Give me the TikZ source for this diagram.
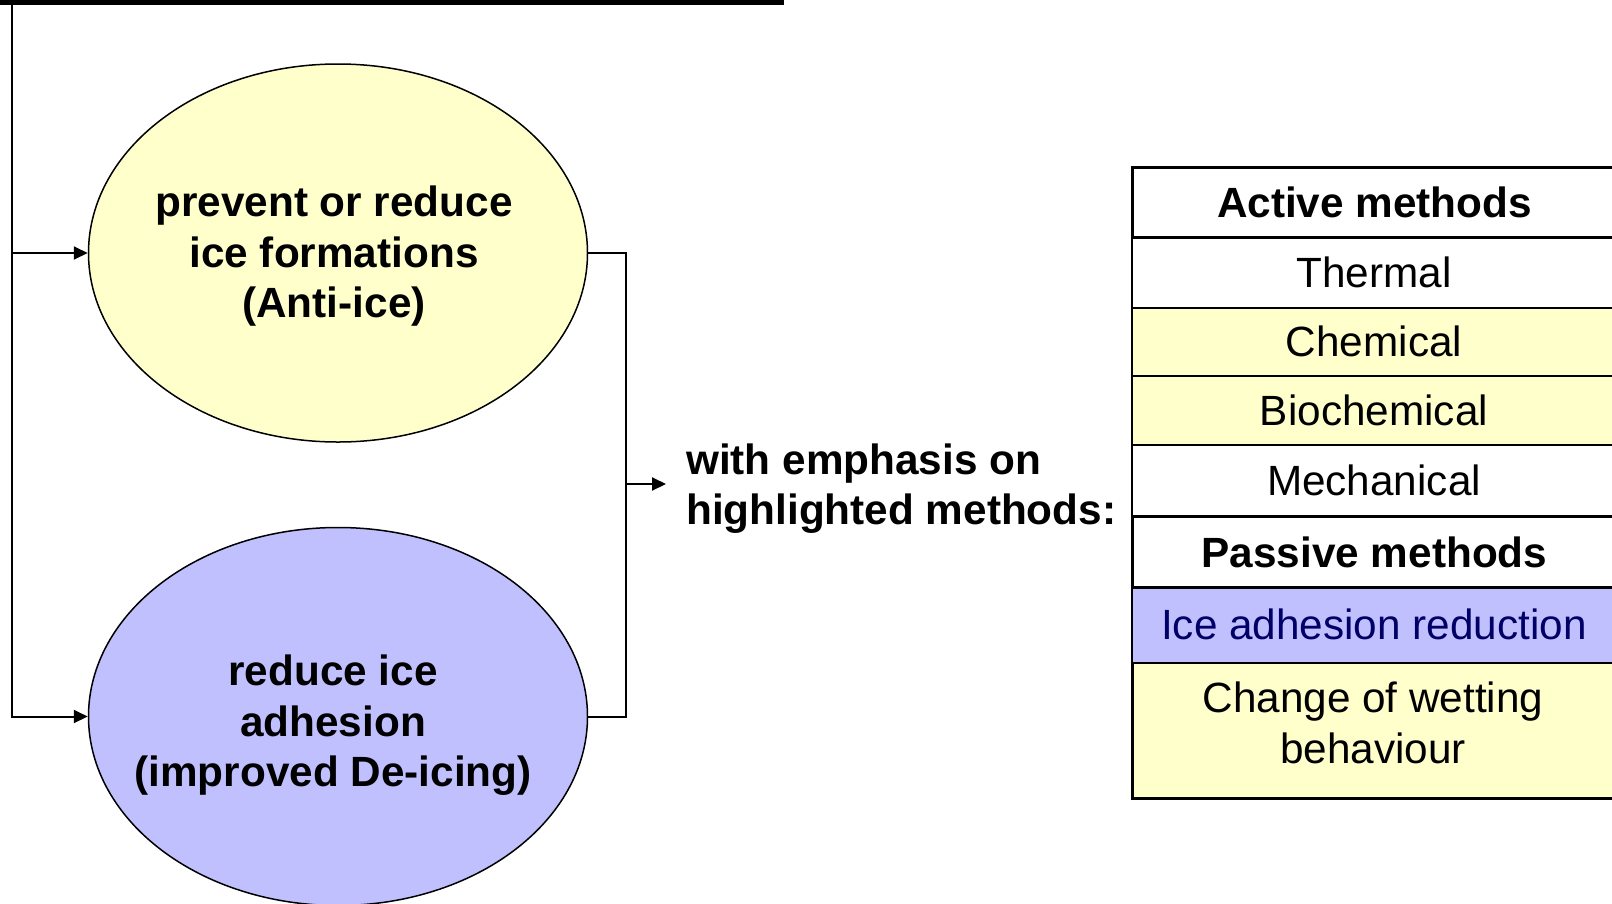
\documentclass[tikz,border=0pt]{standalone}
\usepackage{fontspec}
\setmainfont{Liberation Sans}
\usetikzlibrary{shapes.geometric,arrows.meta}
\definecolor{paleyellow}{RGB}{255,255,204}
\definecolor{paleblue}{RGB}{192,192,255}
\definecolor{navytext}{RGB}{0,0,102}
\tikzset{
  big/.style={font=\fontsize{42.3}{50.5}\selectfont},
  bigbold/.style={font=\fontsize{42.3}{50.5}\selectfont\bfseries},
  oval/.style={ellipse, draw, line width=1.5pt, minimum width=499pt, minimum height=378pt, inner sep=0pt},
  conn/.style={draw, line width=2pt},
  arr/.style={conn, -{Triangle[length=14pt,width=13pt]}},
  row/.style={draw, line width=2pt, minimum width=484pt, inner sep=0pt, anchor=north west, big, align=center},
  headrow/.style={row, line width=3pt, bigbold},
}
\begin{document}
\begin{tikzpicture}[x=1pt,y=-1pt]
\useasboundingbox (0,0) rectangle (1612,903);
% top bar
\coordinate (barL) at (0,2.5);
\coordinate (barR) at (784,2.5);
\draw[line width=5pt] (barL) -- (barR);
% ellipses
\node[oval, fill=paleyellow] (e1) at (338,253) {};
\node[bigbold, align=center] (t1) at (334,256.5) {prevent or reduce\\ice formations\\(Anti-ice)};
\node[oval, fill=paleblue] (e2) at (338,716.5) {};
\node[bigbold, align=center] (t2) at (333,725.5) {reduce ice\\adhesion\\(improved De-icing)};
% left connectors
\coordinate (tl) at (12,2.5);
\draw[arr] (tl) |- (e2.west);
\draw[arr] (tl |- e1.west) -- (e1.west);
% right connectors
\coordinate (j1) at (626,253);
\coordinate (jm) at (626,484);
\draw[conn] (e1.east) -- (j1) |- (e2.east);
\node[bigbold, align=left, anchor=west, inner sep=0pt] (emph) at (686,488.5) {with emphasis on\\highlighted methods:};
\draw[arr] (jm) -- (666,484) coordinate (jt);
% table
\node[row, fill=white, minimum height=70.5pt] (r1) at (1131,236) {Thermal};
\node[row, fill=paleyellow, minimum height=68.7pt] (r2) at (1131,306.5) {Chemical};
\node[row, fill=paleyellow, minimum height=68.9pt] (r3) at (1131,375.2) {Biochemical};
\node[row, fill=white, minimum height=71pt] (r4) at (1131,444.1) {Mechanical};
\node[row, fill=paleblue, minimum height=75.5pt, text=navytext] (r6) at (1131,586) {Ice adhesion reduction};
\node[row, fill=paleyellow, minimum height=135.5pt, line width=2.5pt] (r7) at (1131,661.5) {};
\node[big, align=center] (r7t) at (1373,723) {Change of wetting\\behaviour};
\node[headrow, fill=white, minimum height=70.5pt] (h1) at (1131,165.5) {Active methods};
\node[headrow, fill=white, minimum height=70.9pt] (h2) at (1131,515.1) {Passive methods};
\end{tikzpicture}
\end{document}
